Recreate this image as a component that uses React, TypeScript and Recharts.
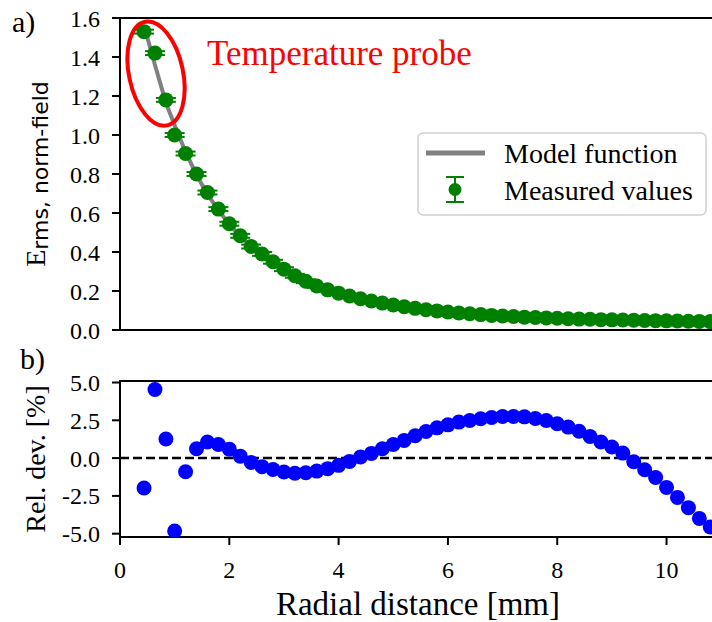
import React from "react";
import {
  ComposedChart,
  ScatterChart,
  Scatter,
  Line,
  XAxis,
  YAxis,
  ErrorBar,
  ReferenceLine,
  ReferenceArea,
  ReferenceDot,
} from "recharts";

// radial positions of the measurement points [mm]
const radialDistance = [
  0.44, 0.64, 0.84, 1.0, 1.2, 1.4, 1.6, 1.8, 2.0, 2.2, 2.4, 2.6, 2.8, 3.0, 3.2,
  3.4, 3.6, 3.8, 4.0, 4.2, 4.4, 4.6, 4.8, 5.0, 5.2, 5.4, 5.6, 5.8, 6.0, 6.2, 6.4,
  6.6, 6.8, 7.0, 7.2, 7.4, 7.6, 7.8, 8.0, 8.2, 8.4, 8.6, 8.8, 9.0, 9.2, 9.4,
  9.6, 9.8, 10.0, 10.2, 10.4, 10.6, 10.8,
];

// measured E_rms (normalised)
const measuredValues = [
  1.53, 1.42, 1.18, 1.0, 0.905, 0.8, 0.705, 0.62, 0.545, 0.483, 0.428, 0.39,
  0.35, 0.312, 0.278, 0.25, 0.226, 0.206, 0.189, 0.174, 0.16, 0.149, 0.138,
  0.128, 0.119, 0.111, 0.104, 0.098, 0.092, 0.087, 0.083, 0.079, 0.075, 0.072,
  0.069, 0.066, 0.064, 0.062, 0.06, 0.058, 0.056, 0.055, 0.053, 0.052, 0.051,
  0.05, 0.049, 0.048, 0.047, 0.046, 0.045, 0.044, 0.043,
];

const measuredError = 0.01;

// model function at the same positions
const modelValues = [
  1.561, 1.359, 1.165, 1.05, 0.913, 0.795, 0.697, 0.614, 0.542, 0.482, 0.429,
  0.392, 0.353, 0.315, 0.281, 0.252, 0.228, 0.207, 0.19, 0.174, 0.16, 0.149,
  0.137, 0.127, 0.118, 0.109, 0.102, 0.096, 0.09, 0.085, 0.081, 0.077, 0.073,
  0.07, 0.067, 0.064, 0.062, 0.06, 0.059, 0.057, 0.055, 0.054, 0.052, 0.052,
  0.051, 0.05, 0.049, 0.049, 0.048, 0.047, 0.047, 0.046, 0.045,
];

// relative deviation [%]
const relDeviation = [
  -1.98, 4.54, 1.26, -4.82, -0.9, 0.62, 1.06, 0.9, 0.59, 0.13, -0.29, -0.57,
  -0.75, -0.92, -1.0, -0.97, -0.86, -0.7, -0.48, -0.22, 0.07, 0.31, 0.62, 0.9,
  1.17, 1.48, 1.76, 2.0, 2.2, 2.38, 2.49, 2.6, 2.69, 2.75, 2.75, 2.73, 2.62,
  2.49, 2.27, 2.05, 1.78, 1.43, 1.06, 0.73, 0.33, -0.24, -0.77, -1.28, -1.94,
  -2.6, -3.28, -3.99, -4.56,
];

const xTicks = [0, 2, 4, 6, 8, 10];
const topYTicks = [0, 0.2, 0.4, 0.6, 0.8, 1.0, 1.2, 1.4, 1.6];
const bottomYTicks = [-5, -2.5, 0, 2.5, 5];

const X_MAX = 10.905;
const TOP_Y: [number, number] = [0, 1.6];
const BOTTOM_Y: [number, number] = [-5.22, 5.1];

const SERIF = "Liberation Serif";
const serif = (size: number) => ({ fontFamily: SERIF, fontSize: size });
const tickStyle = { fontSize: 24, fill: "#000", fontFamily: SERIF };
const axisStroke = { stroke: "#000", strokeWidth: 2 };

const topData = radialDistance.map((x, i) => ({
  x,
  measured: measuredValues[i],
  model: modelValues[i],
  err: measuredError,
}));

const bottomData = radialDistance.map((x, i) => ({ x, dev: relDeviation[i] }));

const fmt1 = (v: number) => v.toFixed(1);

export default function App() {
  return (
    <div
      style={{
        position: "absolute",
        left: 0,
        top: 0,
        width: 712,
        height: 622,
        overflow: "hidden",
        background: "#fff",
        fontFamily: SERIF,
      }}
    >
      <div style={{ position: "absolute", left: 0, top: 0 }}>
        <ComposedChart
          width={740}
          height={360}
          data={topData}
          margin={{ top: 18, right: 24, bottom: 0, left: 0 }}
        >
          <XAxis
            type="number"
            dataKey="x"
            domain={[0, X_MAX]}
            allowDataOverflow
            ticks={xTicks}
            tick={false}
            tickSize={8}
            height={30}
            axisLine={axisStroke}
            tickLine={axisStroke}
          />
          <YAxis
            type="number"
            domain={TOP_Y}
            allowDataOverflow
            ticks={topYTicks}
            tickFormatter={fmt1}
            tick={tickStyle}
            tickSize={8}
            tickMargin={12}
            width={120}
            axisLine={axisStroke}
            tickLine={axisStroke}
          />
          <ReferenceArea
            x1={0}
            x2={X_MAX}
            y1={TOP_Y[0]}
            y2={TOP_Y[1]}
            fill="none"
            stroke="#000"
            strokeWidth={2}
          />
          <Line
            dataKey="model"
            stroke="#808080"
            strokeWidth={4}
            dot={false}
            isAnimationActive={false}
          />
          <Scatter
            dataKey="measured"
            fill="green"
            isAnimationActive={false}
            shape={(p: any) => <circle cx={p.cx} cy={p.cy} r={7.5} fill="green" />}
          >
            <ErrorBar
              dataKey="err"
              direction="y"
              width={10}
              stroke="green"
              strokeWidth={2}
              isAnimationActive={false}
            />
          </Scatter>
          <ReferenceDot
            x={0.659}
            y={1.315}
            shape={(p: any) => (
              <ellipse
                cx={p.cx}
                cy={p.cy}
                rx={27}
                ry={53}
                fill="none"
                stroke="red"
                strokeWidth={4}
                transform={`rotate(-12 ${p.cx} ${p.cy})`}
              />
            )}
          />
        </ComposedChart>
      </div>

      <div style={{ position: "absolute", left: 0, top: 340 }}>
        <ScatterChart
          width={740}
          height={282}
          margin={{ top: 41, right: 24, bottom: 0, left: 0 }}
        >
          <XAxis
            type="number"
            dataKey="x"
            domain={[0, X_MAX]}
            allowDataOverflow
            ticks={xTicks}
            tick={tickStyle}
            tickSize={8}
            tickMargin={16}
            height={85}
            axisLine={axisStroke}
            tickLine={axisStroke}
          />
          <YAxis
            type="number"
            dataKey="dev"
            domain={BOTTOM_Y}
            allowDataOverflow
            ticks={bottomYTicks}
            tickFormatter={fmt1}
            tick={tickStyle}
            tickSize={8}
            tickMargin={12}
            width={120}
            axisLine={axisStroke}
            tickLine={axisStroke}
          />
          <ReferenceArea
            x1={0}
            x2={X_MAX}
            y1={BOTTOM_Y[0]}
            y2={BOTTOM_Y[1]}
            fill="none"
            stroke="#000"
            strokeWidth={2}
          />
          <ReferenceLine y={0} stroke="#000" strokeWidth={2.5} strokeDasharray="9 4" />
          <Scatter
            data={bottomData}
            dataKey="dev"
            fill="blue"
            isAnimationActive={false}
            shape={(p: any) => <circle cx={p.cx} cy={p.cy} r={7.5} fill="blue" />}
          />
        </ScatterChart>
      </div>

      <svg
        width={712}
        height={622}
        style={{ position: "absolute", left: 0, top: 0, pointerEvents: "none" }}
      >
        <text x={12} y={32} style={serif(30)}>
          a)
        </text>
        <text x={20} y={369} style={serif(30)}>
          b)
        </text>
        <text transform="translate(45 174) rotate(-90)" textAnchor="middle" style={serif(28)}>
          <tspan>E</tspan>
          <tspan style={{ fontFamily: "DejaVu Sans", fontSize: 22 }} dy={3}>
            rms, norm-field
          </tspan>
        </text>
        <text transform="translate(45 459) rotate(-90)" textAnchor="middle" style={serif(28)}>
          Rel. dev. [%]
        </text>
        <text x={418} y={615} textAnchor="middle" style={serif(33)}>
          Radial distance [mm]
        </text>
        <text x={207} y={65} fill="red" style={serif(35)}>
          Temperature probe
        </text>

        {/* legend */}
        <rect
          x={418}
          y={133}
          width={288}
          height={82}
          rx={5}
          fill="#fff"
          fillOpacity={0.8}
          stroke="#d0d0d0"
          strokeWidth={1.5}
        />
        <line x1={426} y1={153} x2={485} y2={153} stroke="#808080" strokeWidth={5} />
        <text x={504} y={163} style={serif(28)}>
          Model function
        </text>
        <line x1={455} y1={177} x2={455} y2={202} stroke="green" strokeWidth={2} />
        <line x1={446} y1={177} x2={464} y2={177} stroke="green" strokeWidth={2} />
        <line x1={446} y1={202} x2={464} y2={202} stroke="green" strokeWidth={2} />
        <circle cx={455} cy={189.5} r={6.5} fill="green" />
        <text x={504} y={200} style={serif(28)}>
          Measured values
        </text>
      </svg>
    </div>
  );
}
